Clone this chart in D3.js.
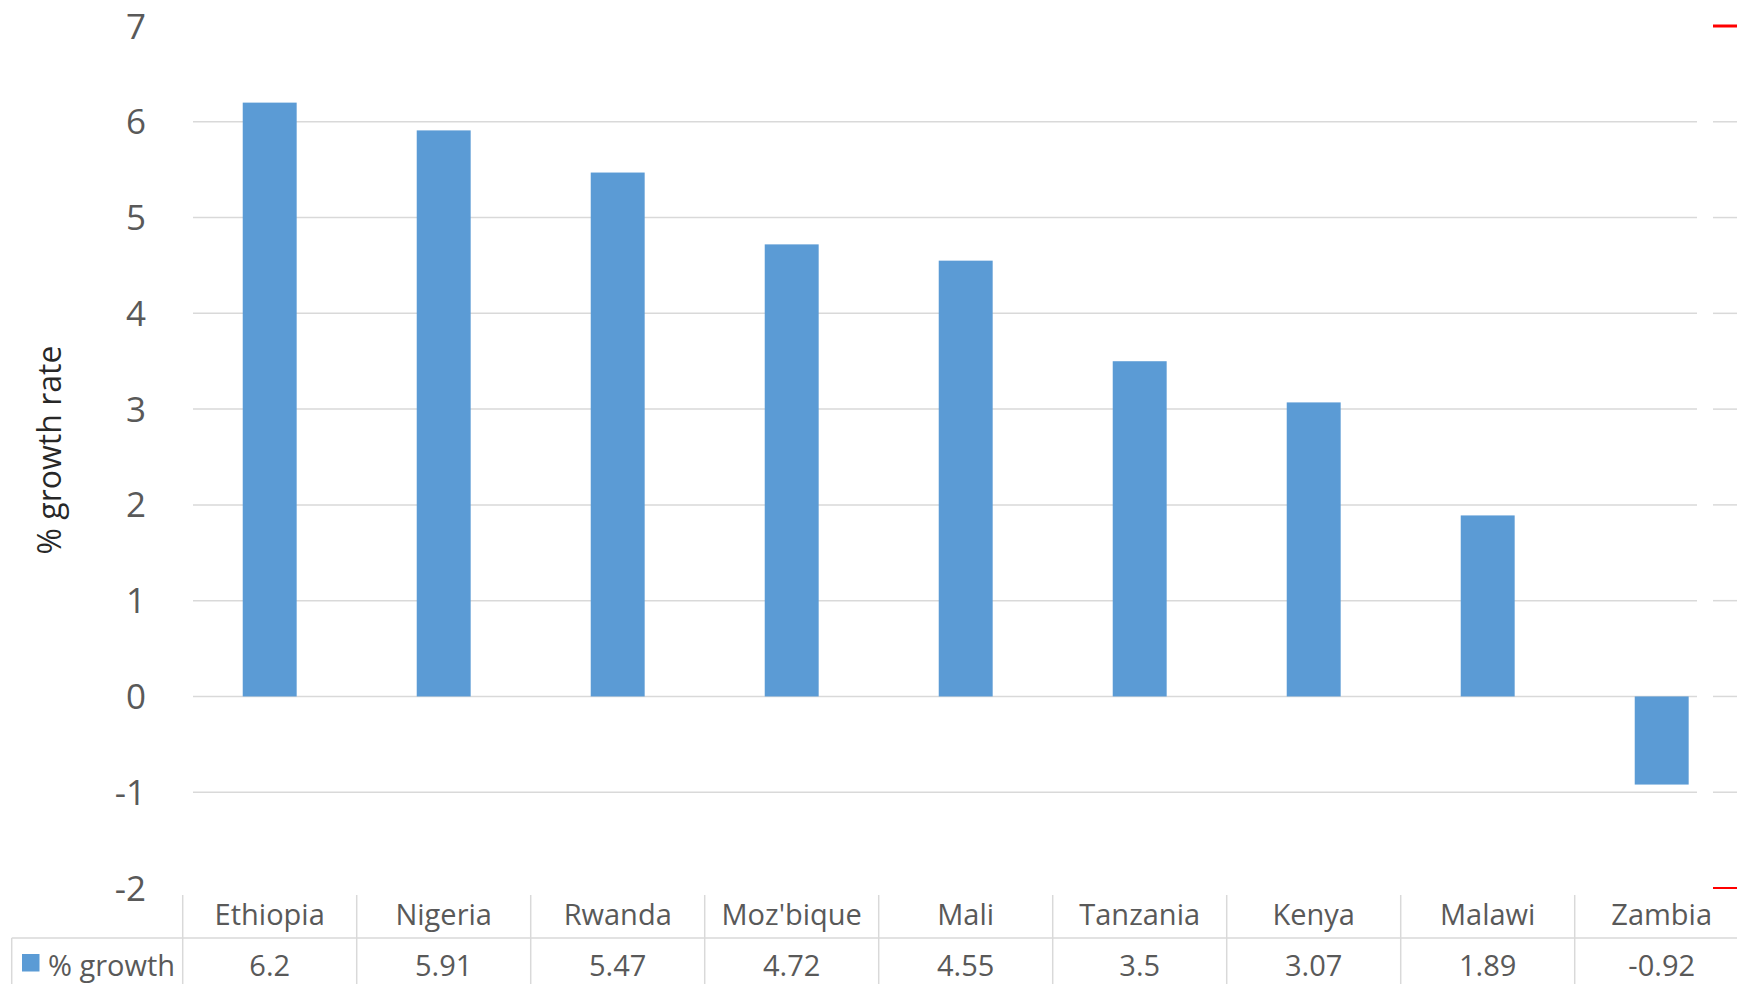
<!DOCTYPE html>
<html><head><meta charset="utf-8">
<script src="https://cdn.jsdelivr.net/npm/d3@7"></script>
<style>html,body{margin:0;padding:0;background:#fff;overflow:hidden}svg{display:block}</style>
</head><body>
<svg id="chart" width="1737" height="984"></svg>
<script>
const categories = ["Ethiopia","Nigeria","Rwanda","Moz'bique","Mali","Tanzania","Kenya","Malawi","Zambia"];
const growth = [6.2, 5.91, 5.47, 4.72, 4.55, 3.5, 3.07, 1.89, -0.92];
const valueLabels = ["6.2","5.91","5.47","4.72","4.55","3.5","3.07","1.89","-0.92"];
const yTicks = [-2,-1,0,1,2,3,4,5,6,7];
const seriesName = "% growth";
const yTitle = "% growth rate";

const svg = d3.select("#chart");
const font = "'Open Sans', sans-serif";
const textCol = "#595959", gridCol = "#D9D9D9", barCol = "#5B9BD5";

const x = d3.scaleBand().domain(categories).range([182.7, 1748.7]).paddingInner(0).paddingOuter(0);
const y = d3.scaleLinear().domain([-2, 7]).range([888, 26]);
const barW = x.bandwidth() * 0.31;

// gridlines (-1..6)
const gl = yTicks.filter(t => t > -2 && t < 7);
svg.append("g").selectAll("line").data(gl).join("line")
  .attr("x1", 193).attr("x2", 1697).attr("y1", d => y(d)).attr("y2", d => y(d))
  .attr("stroke", gridCol).attr("stroke-width", 1.5);
svg.append("g").selectAll("line").data(gl).join("line")
  .attr("x1", 1713).attr("x2", 1737).attr("y1", d => y(d)).attr("y2", d => y(d))
  .attr("stroke", gridCol).attr("stroke-width", 1.5);
// red marks at ends
svg.append("g").selectAll("line").data([7, -2]).join("line")
  .attr("x1", 1713).attr("x2", 1737).attr("y1", d => y(d)).attr("y2", d => y(d))
  .attr("stroke", "#FF0000").attr("stroke-width", d => d === 7 ? 3 : 2);

// bars
svg.append("g").selectAll("rect").data(categories).join("rect")
  .attr("x", d => x(d) + (x.bandwidth() - barW) / 2)
  .attr("width", barW)
  .attr("y", (d, i) => y(Math.max(0, growth[i])))
  .attr("height", (d, i) => Math.abs(y(growth[i]) - y(0)))
  .attr("fill", barCol);

// y tick labels
svg.append("g").selectAll("text").data(yTicks).join("text")
  .attr("x", 146).attr("y", d => y(d) + 12.5)
  .attr("text-anchor", "end").attr("font-family", font).attr("font-size", 35)
  .attr("fill", textCol).text(d => d);

// y title
svg.append("text").attr("transform", "translate(61,450) rotate(-90)")
  .attr("text-anchor", "middle").attr("font-family", font).attr("font-size", 32)
  .attr("fill", "#000").attr("fill-opacity", 0.85).text(yTitle);

// data table
const tbl = svg.append("g");
const vx = categories.map(c => x(c)).concat([x.range()[1]]);
tbl.selectAll("line.v").data(vx).join("line")
  .attr("x1", d => d).attr("x2", d => d).attr("y1", 895).attr("y2", 984)
  .attr("stroke", gridCol).attr("stroke-width", 1.5);
tbl.append("line").attr("x1", 11.7).attr("x2", 1737).attr("y1", 938).attr("y2", 938)
  .attr("stroke", gridCol).attr("stroke-width", 1.5);
tbl.append("line").attr("x1", 11.7).attr("x2", 11.7).attr("y1", 938).attr("y2", 984)
  .attr("stroke", gridCol).attr("stroke-width", 1.5);
tbl.selectAll("text.cat").data(categories).join("text")
  .attr("x", d => x(d) + x.bandwidth() / 2).attr("y", 925)
  .attr("text-anchor", "middle").attr("font-family", font).attr("font-size", 29)
  .attr("fill", textCol).text(d => d);
tbl.selectAll("text.val").data(categories).join("text")
  .attr("x", d => x(d) + x.bandwidth() / 2).attr("y", 976)
  .attr("text-anchor", "middle").attr("font-family", font).attr("font-size", 29)
  .attr("fill", textCol).text((d, i) => valueLabels[i]);
tbl.append("rect").attr("x", 22).attr("y", 954).attr("width", 17.5).attr("height", 17.5).attr("fill", barCol);
tbl.append("text").attr("x", 48).attr("y", 976).attr("font-family", font).attr("font-size", 29)
  .attr("fill", textCol).text(seriesName);
</script>
</body></html>
